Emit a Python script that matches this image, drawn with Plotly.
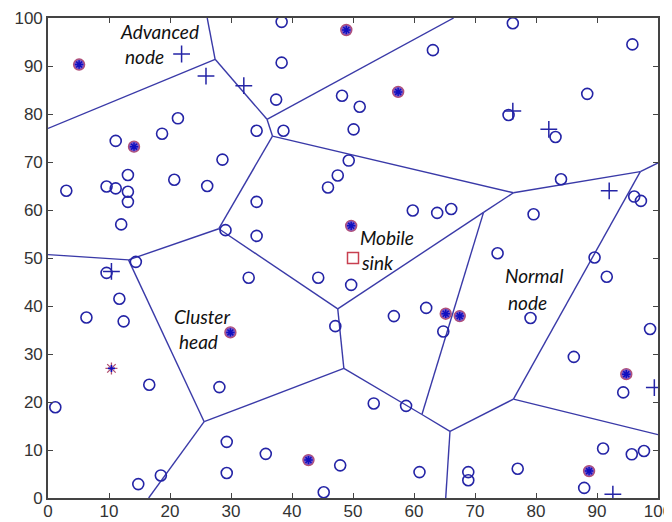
import plotly.graph_objects as go

# Normal nodes
normal_x = [38.3, 38.3, 37.4, 34.2, 38.6, 48.2, 21.3, 18.7, 11.1, 28.6, 3.0, 9.6, 11.1, 13.1, 13.1, 13.1, 12.0,
            20.7, 26.1, 34.2, 34.2, 29.1, 47.5, 45.9, 14.4,
            63.1, 76.2, 95.8, 51.1, 50.1, 88.4, 75.5, 83.2, 49.3, 84.1, 96.1, 97.2, 59.8, 63.8, 66.1, 79.6, 73.7, 89.6,
            49.7, 47.1, 56.7, 62.0, 64.8, 79.1, 86.2, 91.6, 98.7, 94.3, 53.4, 58.7, 47.9, 60.9, 68.9, 68.9, 77.0, 87.9,
            91.0, 95.7, 97.7,
            9.6, 11.7, 6.3, 12.4, 16.6, 1.2, 28.1, 32.9, 44.3, 29.3, 29.3, 35.7, 45.2, 18.5, 14.8]
normal_y = [99.2, 90.7, 83.0, 76.5, 76.5, 83.8, 79.1, 75.9, 74.4, 70.5, 64.0, 64.9, 64.5, 67.3, 63.8, 61.7, 57.0,
            66.3, 65.0, 61.7, 54.6, 55.8, 67.2, 64.7, 49.2,
            93.3, 98.9, 94.5, 81.5, 76.8, 84.2, 79.8, 75.2, 70.3, 66.4, 62.8, 61.9, 59.9, 59.4, 60.2, 59.1, 51.0, 50.1,
            44.4, 35.8, 37.9, 39.6, 34.7, 37.5, 29.4, 46.1, 35.2, 22.0, 19.7, 19.2, 6.8, 5.4, 5.4, 3.7, 6.1, 2.1,
            10.3, 9.1, 9.8,
            46.9, 41.5, 37.6, 36.8, 23.6, 18.9, 23.1, 45.9, 45.9, 11.7, 5.2, 9.2, 1.2, 4.7, 2.9]

# Cluster heads
ch_x = [5.1, 14.1, 48.9, 57.4, 49.7, 29.9, 65.2, 67.5, 94.8, 42.7, 88.7]
ch_y = [90.3, 73.2, 97.5, 84.6, 56.7, 34.5, 38.4, 37.9, 25.8, 7.9, 5.6]

# Lone star node
star_x = [10.4]
star_y = [27.0]

# Advanced nodes
adv_x = [21.9, 25.9, 32.1, 76.2, 82.1, 92.0, 10.4, 99.4, 92.6]
adv_y = [92.5, 87.9, 85.9, 80.6, 76.8, 64.0, 47.2, 23.0, 0.8]

# Mobile sink
sink_x = [50.0]
sink_y = [50.0]

# Voronoi edges (segments separated by None)
edge_x = [27.4, 0.0, None, 27.4, 26.1, None, 27.4, 35.9, None, 35.9, 66.5, None, 35.9, 36.8, None,
          36.8, 76.3, None, 36.8, 28.0, None, 28.0, 13.2, None, 13.2, 0.0, None, 13.2, 25.6, None,
          25.6, 16.5, None, 25.6, 48.5, None, 28.0, 47.5, None, 47.5, 71.4, None, 71.4, 76.3, None,
          47.5, 48.5, None, 48.5, 61.3, None, 71.4, 61.3, None, 61.3, 65.9, None, 65.9, 65.2, None,
          65.9, 76.3, None, 76.3, 97.1, None, 76.3, 100.0, None, 76.3, 97.1, None, 97.1, 100.0]
edge_y = [91.4, 77.0, None, 91.4, 100.0, None, 91.4, 78.9, None, 78.9, 100.0, None, 78.9, 75.4, None,
          75.4, 63.6, None, 75.4, 56.1, None, 56.1, 49.6, None, 49.6, 50.7, None, 49.6, 15.9, None,
          15.9, 0.0, None, 15.9, 27.0, None, 56.1, 39.4, None, 39.4, 59.5, None, 59.5, 63.6, None,
          39.4, 27.0, None, 27.0, 17.4, None, 59.5, 17.4, None, 17.4, 13.9, None, 13.9, 0.0, None,
          13.9, 20.6, None, 20.6, 68.0, None, 20.6, 13.2, None, 63.6, 68.0, None, 68.0, 69.8]

# Labels
label_text = ["Advanced", "node", "Cluster", "head", "Mobile", "sink", "Normal", "node"]
label_x = [18.2, 15.8, 25.2, 24.7, 55.5, 54.0, 79.7, 78.6]
label_y = [97.1, 91.9, 37.9, 32.7, 54.3, 49.0, 46.3, 40.8]

tick_vals = [0, 10, 20, 30, 40, 50, 60, 70, 80, 90, 100]

blue = "#2424a6"
fig = go.Figure()
fig.add_trace(go.Scatter(x=edge_x, y=edge_y, mode="lines", line=dict(color="#3a3aa8", width=1.4),
                         hoverinfo="skip", showlegend=False))
fig.add_trace(go.Scatter(x=normal_x, y=normal_y, mode="markers",
                         marker=dict(symbol="circle-open", size=11, color=blue, line=dict(width=1.6, color=blue)),
                         showlegend=False))
fig.add_trace(go.Scatter(x=ch_x, y=ch_y, mode="markers",
                         marker=dict(symbol="circle", size=11, color="#7a5ac8", line=dict(width=1.4, color="#b0507a")),
                         showlegend=False))
fig.add_trace(go.Scatter(x=ch_x, y=ch_y, mode="markers",
                         marker=dict(symbol="asterisk-open", size=7, color="#1010c0", line=dict(width=1.5, color="#1010c0")),
                         showlegend=False))
fig.add_trace(go.Scatter(x=star_x, y=star_y, mode="markers",
                         marker=dict(symbol="asterisk-open", size=10, color="#b05070", line=dict(width=1.3, color="#b05070")),
                         showlegend=False))
fig.add_trace(go.Scatter(x=star_x, y=star_y, mode="markers",
                         marker=dict(symbol="cross-thin-open", size=5, color="#1010c0", line=dict(width=1.6, color="#1010c0")),
                         showlegend=False))
fig.add_trace(go.Scatter(x=adv_x, y=adv_y, mode="markers",
                         marker=dict(symbol="cross-thin-open", size=12, color=blue, line=dict(width=1.5, color=blue)),
                         showlegend=False))
fig.add_trace(go.Scatter(x=sink_x, y=sink_y, mode="markers",
                         marker=dict(symbol="square-open", size=11, color="#c84050", line=dict(width=1.5, color="#c84050")),
                         showlegend=False))

for t, x, y in zip(label_text, label_x, label_y):
    fig.add_annotation(x=x, y=y, text="<i>" + t + "</i>", showarrow=False, xanchor="center", yanchor="middle",
                       font=dict(family="Lato", size=19, color="#111111"))

axis_common = dict(range=[0, 100], tickvals=tick_vals, ticktext=[str(v) for v in tick_vals],
                   ticks="inside", ticklen=5, tickcolor="#444444", tickwidth=1.2,
                   showline=True, linecolor="#444444", linewidth=1.6, mirror="ticks",
                   showgrid=False, zeroline=False, automargin=False,
                   tickfont=dict(family="Liberation Sans", size=17, color="#333333"))
fig.update_xaxes(**axis_common, ticklabelstandoff=-3)
fig.update_yaxes(**axis_common)
# page adds an 8px body margin, so margins are shifted to keep the plot area in place
fig.update_layout(width=672, height=522, margin=dict(l=40, r=22, t=10, b=32),
                  plot_bgcolor="white", paper_bgcolor="white", showlegend=False)
fig.write_html("out.html")
